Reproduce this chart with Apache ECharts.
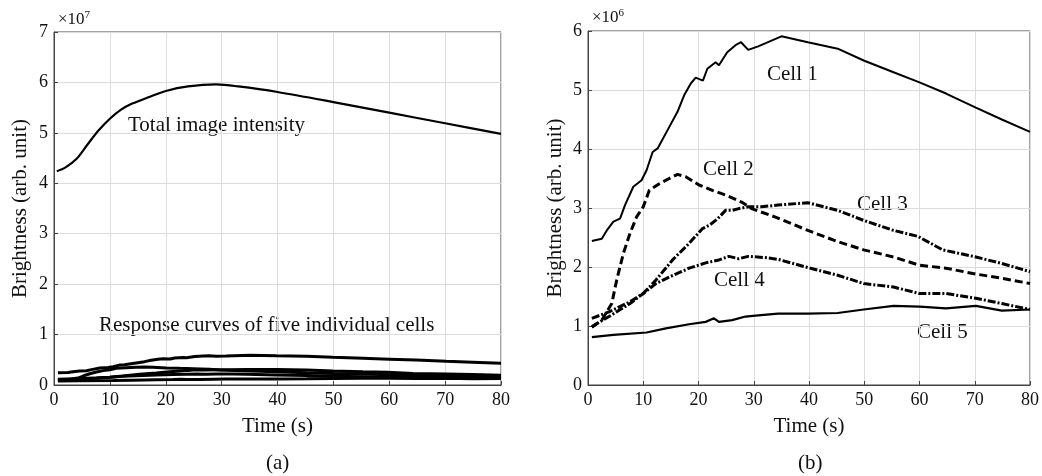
<!DOCTYPE html>
<html>
<head>
<meta charset="utf-8">
<script src="https://cdn.jsdelivr.net/npm/echarts@6/dist/echarts.min.js"></script>
<style>
  html, body { margin: 0; padding: 0; background: #fff; }
  #chart { width: 1042px; height: 476px; }
</style>
</head>
<body>
<div id="chart"></div>
<script>
// all brightness values in units of 1e6 (arb. unit)
const xTicks = [0, 10, 20, 30, 40, 50, 60, 70, 80];

const totalT = [0.5, 2, 4, 6, 8, 10, 12, 14, 17, 20, 24, 29, 33, 40, 50, 60, 70, 80];
const totalV = [42.4, 43.1, 44.8, 47.7, 50.5, 52.8, 54.6, 55.8, 57.1, 58.3, 59.2, 59.6, 59.2, 58.1, 56.1, 54.0, 51.9, 49.8];

const cell1T = [0.7, 2.5, 3.4, 4.6, 5.8, 6.7, 8.2, 9.7, 10.6, 11.7, 12.6, 14.4, 16.2, 17.4, 18.6, 19.5, 20.8, 21.6, 23.1, 23.7, 25.2, 26.7, 27.7, 29, 30.8, 35, 39.8, 45.2, 49.9, 55.3, 60, 64.8, 70.2, 74.9, 80];
const cell1V = [2.44, 2.48, 2.62, 2.77, 2.82, 3.05, 3.36, 3.47, 3.64, 3.95, 4.01, 4.32, 4.63, 4.91, 5.11, 5.21, 5.16, 5.36, 5.47, 5.42, 5.64, 5.76, 5.81, 5.68, 5.74, 5.91, 5.81, 5.70, 5.50, 5.30, 5.13, 4.94, 4.70, 4.50, 4.29];

const cell2T = [0.7, 2.5, 4.3, 5.2, 6.4, 7.6, 8.8, 10, 11.1, 12.9, 14.7, 16.2, 17.7, 20.1, 22.5, 24.9, 27.8, 29.6, 33.8, 39.8, 45.2, 49.9, 55.3, 60, 64.8, 70.2, 74.9, 80];
const cell2V = [0.98, 1.10, 1.38, 1.78, 2.23, 2.57, 2.85, 3.02, 3.30, 3.41, 3.50, 3.57, 3.53, 3.39, 3.30, 3.22, 3.10, 2.99, 2.85, 2.62, 2.43, 2.29, 2.17, 2.03, 1.98, 1.88, 1.81, 1.72];

const cell3T = [0.7, 3.8, 7.6, 10, 12.3, 15.3, 18.3, 20.7, 22, 23.5, 24.9, 26.1, 27.3, 29, 31.4, 34.4, 39.8, 45.2, 49.9, 55.3, 59.7, 64.2, 70.2, 74.9, 80];
const cell3V = [1.13, 1.24, 1.41, 1.55, 1.78, 2.12, 2.40, 2.65, 2.71, 2.82, 2.96, 2.96, 2.99, 3.02, 3.02, 3.05, 3.09, 2.96, 2.79, 2.62, 2.52, 2.29, 2.17, 2.06, 1.92];

const cell4T = [0.7, 3.8, 7.6, 10, 12.3, 14.7, 18.3, 21.3, 23.7, 25.5, 27.3, 29, 32, 34.4, 39.8, 45.2, 49.9, 55.3, 60, 64.8, 70.2, 74.9, 80];
const cell4V = [0.99, 1.16, 1.38, 1.55, 1.72, 1.83, 1.98, 2.07, 2.12, 2.18, 2.14, 2.18, 2.16, 2.13, 1.99, 1.86, 1.72, 1.66, 1.55, 1.55, 1.47, 1.38, 1.28];

const cell5T = [0.7, 4.6, 10.6, 14.1, 18.3, 21.3, 22.8, 23.7, 26.1, 28.5, 30.8, 34.4, 39.8, 45.2, 49.9, 55.3, 60, 64.8, 70.2, 74.9, 80];
const cell5V = [0.81, 0.85, 0.89, 0.96, 1.03, 1.07, 1.13, 1.07, 1.10, 1.16, 1.18, 1.21, 1.21, 1.22, 1.28, 1.34, 1.33, 1.30, 1.34, 1.26, 1.28];

const cellNames = ['Cell 1', 'Cell 2', 'Cell 3', 'Cell 4', 'Cell 5'];
const cellT = [cell1T, cell2T, cell3T, cell4T, cell5T];
const cellV = [cell1V, cell2V, cell3V, cell4V, cell5V];

const FONT = '"Liberation Serif", "Times New Roman", serif';
const INK = '#111';

const pairs = (t, v) => t.map((x, i) => [x, v[i]]);

const xAxisOf = (gridIndex) => ({
  type: 'value', gridIndex, min: 0, max: 80, interval: 10,
  name: 'Time (s)', nameLocation: 'middle', nameGap: 31,
  nameTextStyle: { fontFamily: FONT, fontSize: 21, color: INK },
  axisLine: { show: true, onZero: false, lineStyle: { color: '#444', width: 1 } },
  axisTick: { show: true, inside: true, length: 4, lineStyle: { color: '#444' } },
  axisLabel: { fontFamily: FONT, fontSize: 18, color: INK, margin: 6 },
  splitLine: { show: true, lineStyle: { color: '#dcdcdc', width: 1 } }
});

const yAxisOf = (gridIndex, max, interval, fmt, gap) => ({
  type: 'value', gridIndex, min: 0, max, interval,
  name: 'Brightness (arb. unit)', nameLocation: 'middle', nameGap: gap,
  nameTextStyle: { fontFamily: FONT, fontSize: 21, color: INK },
  axisLine: { show: true, lineStyle: { color: '#444', width: 1 } },
  axisTick: { show: true, inside: true, length: 4, lineStyle: { color: '#444' } },
  axisLabel: { fontFamily: FONT, fontSize: 18, color: INK, margin: 6, formatter: fmt },
  splitLine: { show: true, lineStyle: { color: '#dcdcdc', width: 1 } }
});

const rightStyles = [
  { type: 'solid', width: 2 },
  { type: [8, 4], width: 3 },
  { type: [8, 2, 2, 2], width: 3 },
  { type: [8, 2, 2, 2], width: 3 },
  { type: 'solid', width: 2.2 }
];

const series = [
  {
    name: 'Total image intensity', type: 'line', xAxisIndex: 0, yAxisIndex: 0,
    data: pairs(totalT, totalV), showSymbol: false, smooth: 0.3,
    lineStyle: { color: '#000', width: 2.2 }, silent: true
  }
];
cellNames.forEach((n, i) => {
  series.push({
    name: n + ' (a)', type: 'line', xAxisIndex: 0, yAxisIndex: 0,
    data: pairs(cellT[i], cellV[i]), showSymbol: false,
    lineStyle: { color: '#000', width: 3 }, silent: true
  });
  series.push({
    name: n, type: 'line', xAxisIndex: 1, yAxisIndex: 1,
    data: pairs(cellT[i], cellV[i]), showSymbol: false,
    lineStyle: Object.assign({ color: '#000' }, rightStyles[i]), silent: true
  });
});

const txt = (left, top, text, size) => ({
  type: 'text', left, top,
  style: { text, font: size + 'px ' + FONT, fill: INK }
});

const expText = (left, top, base, exp) => ({
  type: 'text', left, top,
  style: {
    text: '{b|' + base + '}{s|' + exp + '}',
    rich: {
      b: { fontFamily: FONT, fontSize: 17, fill: INK, color: INK },
      s: { fontFamily: FONT, fontSize: 11, fill: INK, color: INK, verticalAlign: 'top', padding: [0, 0, 8, 0] }
    }
  }
});

const chart = echarts.init(document.getElementById('chart'), null, { renderer: 'canvas' });
chart.setOption({
  animation: false,
  backgroundColor: '#fff',
  grid: [
    { left: 54, top: 32, width: 447, height: 353, show: true, borderColor: '#444', borderWidth: 1, backgroundColor: 'transparent' },
    { left: 588, top: 31, width: 447, height: 354, show: true, borderColor: '#444', borderWidth: 1, backgroundColor: 'transparent' }
  ],
  xAxis: [xAxisOf(0), xAxisOf(1)],
  yAxis: [
    yAxisOf(0, 70, 10, (v) => String(v / 10), 23),
    yAxisOf(1, 6, 1, (v) => String(v), 22)
  ],
  series,
  graphic: [
    expText(58, 10, '×10', '7'),
    expText(592, 8, '×10', '6'),
    txt(128, 115, 'Total image intensity', 21),
    txt(99, 315, 'Response curves of five individual cells', 21),
    txt(767, 64, 'Cell 1', 21),
    txt(703, 159, 'Cell 2', 21),
    txt(857, 194, 'Cell 3', 21),
    txt(714, 270, 'Cell 4', 21),
    txt(917, 322, 'Cell 5', 21),
    txt(266, 453, '(a)', 21),
    txt(798, 453, '(b)', 21)
  ]
});
</script>
</body>
</html>
